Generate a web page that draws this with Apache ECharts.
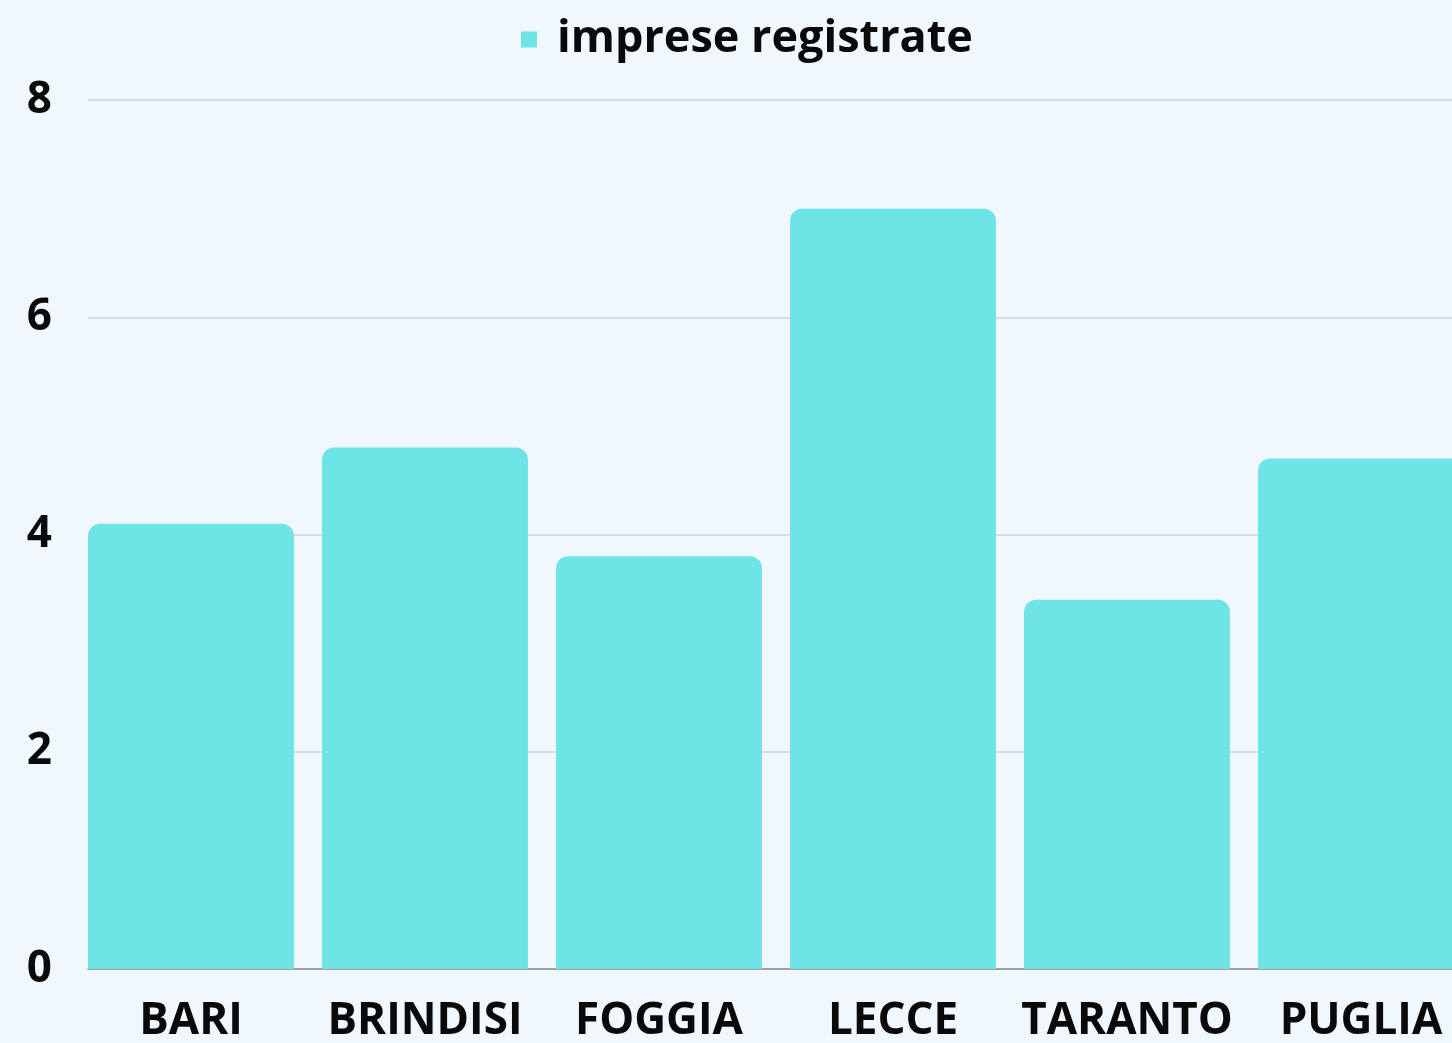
<!DOCTYPE html>
<html>
<head>
<meta charset="utf-8">
<script src="https://cdn.jsdelivr.net/npm/echarts@6/dist/echarts.min.js"></script>
<style>
  html, body { margin: 0; padding: 0; background: #f1f8fd; }
  #chart { width: 1452px; height: 1043px; }
</style>
</head>
<body>
<div id="chart"></div>
<script>
var province = ['BARI', 'BRINDISI', 'FOGGIA', 'LECCE', 'TARANTO', 'PUGLIA']
var impreseRegistrate = [4.1, 4.8, 3.8, 7.0, 3.4, 4.7]
var yMin = 0
var yMax = 8
var yStep = 2

var chart = echarts.init(document.getElementById('chart'))

var labelFont = {
    fontFamily: 'Open Sans',
    fontWeight: 'bold',
    color: '#0a0a0a'
}

var option = {
    backgroundColor: '#f1f8fd',
    animation: false,
    legend: {
        top: 12,
        left: 516,
        icon: 'rect',
        itemWidth: 16,
        itemHeight: 16,
        itemGap: 10,
        textStyle: Object.assign({ fontSize: 45, padding: [0, 0, 0, 15] }, labelFont),
        data: ['imprese registrate']
    },
    grid: [
        // bars: the band runs a bit past the right edge, like the source
        { left: 74, width: 1404, top: 100, bottom: 74, outerBoundsMode: 'none' },
        // gridlines + y labels
        { left: 88, right: 0, top: 100, bottom: 74, outerBoundsMode: 'none' }
    ],
    xAxis: [{
        type: 'category',
        gridIndex: 0,
        data: province,
        axisLine: { show: false },
        axisTick: { show: false },
        axisLabel: Object.assign({ fontSize: 44, margin: 30, interval: 0 }, labelFont)
    }, {
        type: 'value',
        gridIndex: 1,
        min: 0,
        max: 1,
        axisLine: { show: true, lineStyle: { color: '#8a8a8a', width: 1.5 } },
        axisTick: { show: false },
        axisLabel: { show: false },
        splitLine: { show: false }
    }],
    yAxis: [{
        type: 'value',
        gridIndex: 0,
        min: yMin,
        max: yMax,
        interval: yStep,
        axisLabel: { show: false },
        axisLine: { show: false },
        axisTick: { show: false },
        splitLine: { show: false }
    }, {
        type: 'value',
        gridIndex: 1,
        min: yMin,
        max: yMax,
        interval: yStep,
        axisLine: { show: false },
        axisTick: { show: false },
        axisLabel: Object.assign({ fontSize: 44, margin: 36 }, labelFont),
        splitLine: { lineStyle: { color: '#cfd3d6', width: 1.5 } }
    }],
    series: [{
        name: 'imprese registrate',
        type: 'bar',
        xAxisIndex: 0,
        yAxisIndex: 0,
        data: impreseRegistrate,
        barCategoryGap: '12%',
        z: 3,
        itemStyle: {
            color: '#6ee4e7',
            borderRadius: [12, 12, 0, 0]
        }
    }]
}

chart.setOption(option)
</script>
</body>
</html>
